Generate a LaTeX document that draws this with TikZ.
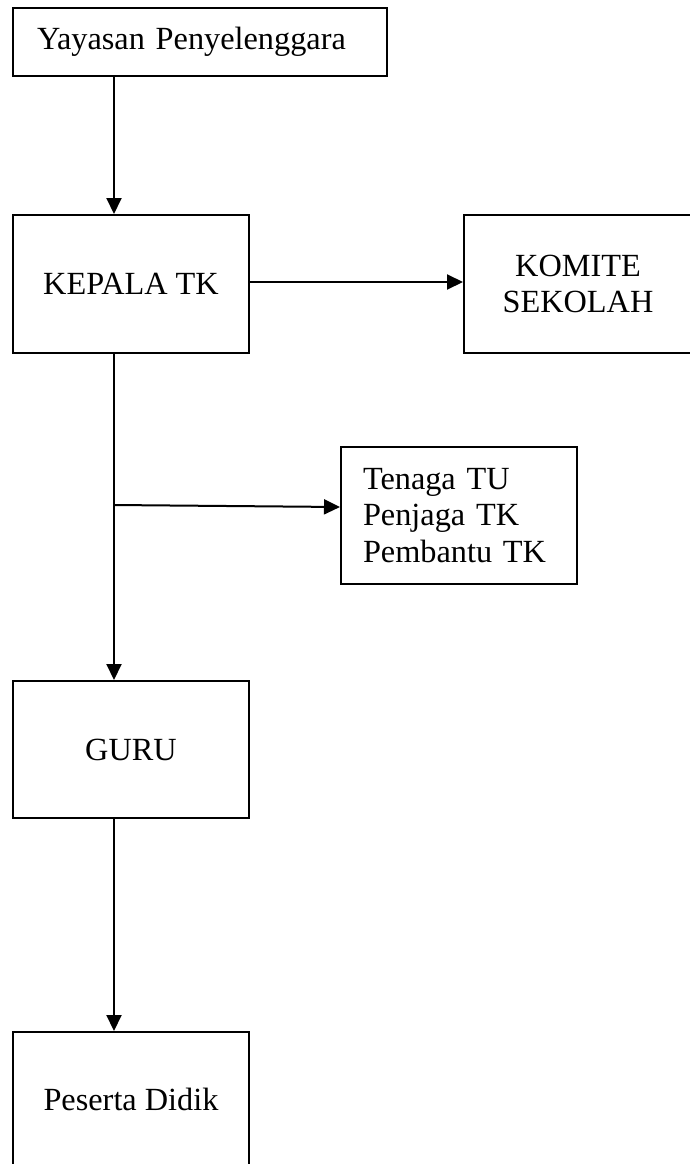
\documentclass[tikz,border=0pt]{standalone}
\usepackage{fontspec}
\setmainfont{Liberation Serif}
\usetikzlibrary{arrows.meta,calc}
\tikzset{
  boxnode/.style={draw=black, line width=2pt, rectangle, inner sep=0pt, fill=white,
    font=\fontsize{32.3}{36.8}\selectfont, align=center},
  conn/.style={line width=2pt, -{Triangle[length=16pt,width=15pt]}},
}
\begin{document}
\begin{tikzpicture}[x=1pt,y=-1pt]
\useasboundingbox (0,0) rectangle (690,1164);
% boxes
\node[boxnode, text width=326pt, align=left, inner xsep=24pt, minimum height=68pt] (yay) at (200,42) {Yayasan Penyelenggara};
\node[boxnode, minimum width=236pt, minimum height=138pt] (kep) at (131,284) {KEPALA TK};
\node[boxnode, minimum width=228pt, minimum height=138pt] (kom) at (578,284) {KOMITE\\SEKOLAH};
\node[boxnode, text width=192pt, align=left, inner xsep=22pt, minimum height=137pt] (ten) at (459,515.5) {Tenaga TU\\Penjaga TK\\Pembantu TK};
\node[boxnode, minimum width=236pt, minimum height=137pt] (guru) at (131,749.5) {GURU};
\node[boxnode, minimum width=236pt, minimum height=134pt] (ps) at (131,1099) {Peserta Didik};
% spine
\coordinate (spine) at (114,0);
\coordinate (br) at (114,505);
% connectors
\draw[conn] (yay.south -| spine) -- (kep.north -| spine);
\draw[conn] (kep.east |- 0,282) -- (kom.west |- 0,282);
\draw[line width=2pt] (kep.south -| spine) -- (br);
\draw[conn] (br) -- ($(ten.west)+(0,-8.5)$);
\draw[conn] (br) -- (guru.north -| spine);
\draw[conn] (guru.south -| spine) -- (ps.north -| spine);
\end{tikzpicture}
\end{document}
